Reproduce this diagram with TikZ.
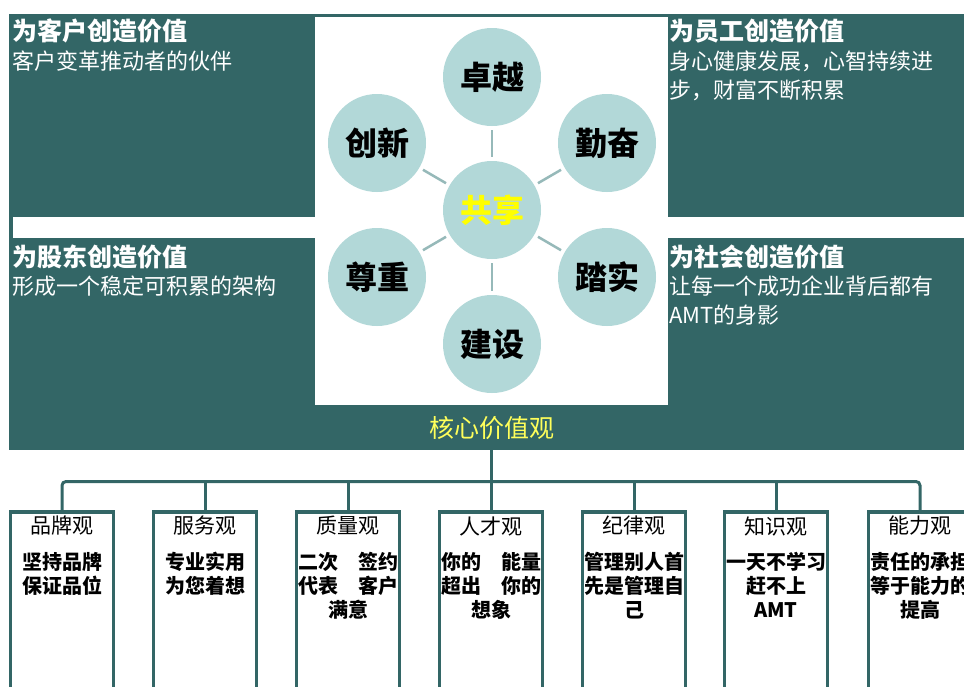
\documentclass[tikz,border=0pt]{standalone}
\usepackage{fontspec}
\newfontfamily\cjk{Noto Sans CJK SC}
\usetikzlibrary{positioning}

\definecolor{panelteal}{RGB}{51,102,102}
\definecolor{circfill}{RGB}{178,216,216}
\definecolor{spokegray}{RGB}{150,185,185}
\definecolor{coreyellow}{RGB}{255,255,0}
\definecolor{labelyellow}{RGB}{255,255,90}

\tikzset{
  paneltitle/.style={anchor=west, inner sep=0pt, text=white,
    font=\cjk\bfseries\fontsize{25}{25}\selectfont},
  paneltext/.style={anchor=north west, inner sep=0pt, text=white, align=left,
    font=\cjk\fontsize{22}{29}\selectfont},
  value/.style={circle, fill=circfill, minimum size=98pt, inner sep=0pt,
    font=\cjk\bfseries\fontsize{32}{32}\selectfont},
  spoke/.style={draw=spokegray, line width=2.5pt, shorten <=4pt, shorten >=4pt},
  corelabel/.style={inner sep=0pt, text=labelyellow,
    font=\cjk\fontsize{25}{25}\selectfont},
  viewbox/.style={draw=panelteal, line width=3.5pt, fill=white,
    minimum width=103pt, minimum height=220pt, anchor=north},
  viewtitle/.style={inner sep=0pt, font=\cjk\fontsize{21}{21}\selectfont},
  viewtext/.style={anchor=north, inner sep=0pt, align=center,
    font=\cjk\bfseries\fontsize{20}{24}\selectfont},
  trunk/.style={draw=panelteal, line width=3pt, rounded corners=4pt}
}

\begin{document}
\begin{tikzpicture}[x=1pt, y=-1pt]
\useasboundingbox (0,0) rectangle (964,686);
\clip (0,0) rectangle (964,686);

% background panels
\fill[panelteal] (9,14) rectangle (975,450);
\fill[white] (315,17) rectangle (668,405);
\fill[white] (13,217) rectangle (975,238);

% four value panels
\node[paneltitle] (customer) at (12,31) {为客户创造价值};
\node[paneltext] (customertext) at (12,51) {客户变革推动者的伙伴};
\node[paneltitle] (staff) at (669,31) {为员工创造价值};
\node[paneltext] (stafftext) at (669,51) {身心健康发展，心智持续进\\步，财富不断积累};
\node[paneltitle] (holder) at (12,257) {为股东创造价值};
\node[paneltext] (holdertext) at (12,276) {形成一个稳定可积累的架构};
\node[paneltitle] (society) at (669,257) {为社会创造价值};
\node[paneltext] (societytext) at (669,276) {让每一个成功企业背后都有\\AMT的身影};

% circles
\node[value, text=coreyellow] (share) at (492,210) {共享};
\node[value] (excel) at (492,77) {卓越};
\node[value] (diligent) at (607,143) {勤奋};
\node[value] (solid) at (607,277) {踏实};
\node[value] (build) at (492,344) {建设};
\node[value] (respect) at (377,277) {尊重};
\node[value] (innovate) at (377,143) {创新};

\foreach \n in {excel,diligent,solid,build,respect,innovate}
  \draw[spoke] (share) -- (\n);

\node[corelabel] (core) at (492,428) {核心价值观};

% seven views
\foreach \i/\x/\t/\b in {
    1/62/品牌观/{坚持品牌\\保证品位},
    2/205/服务观/{专业实用\\为您着想},
    3/348/质量观/{二次　签约\\代表　客户\\满意},
    4/491/人才观/{你的　能量\\超出　你的\\想象},
    5/634/纪律观/{管理别人首\\先是管理自\\己},
    6/776/知识观/{一天不学习\\赶不上\\AMT},
    7/920/能力观/{责任的承担\\等于能力的\\提高}} {
  \node[viewbox] (b\i) at (\x,510) {};
  \node[viewtitle] (t\i) at (\x,526) {\t};
  \node[viewtext] (d\i) at (\x,552) {\b};
}

% tree
\coordinate (root) at (491,450);
\coordinate (hub) at (491,481.5);
\draw[trunk] (b1.north) |- (hub) -| (b7.north);
\foreach \i in {2,...,6}
  \draw[trunk] (b\i.north) -- (b\i.north |- hub);
\draw[trunk] (root) -- (hub);
\end{tikzpicture}
\end{document}
